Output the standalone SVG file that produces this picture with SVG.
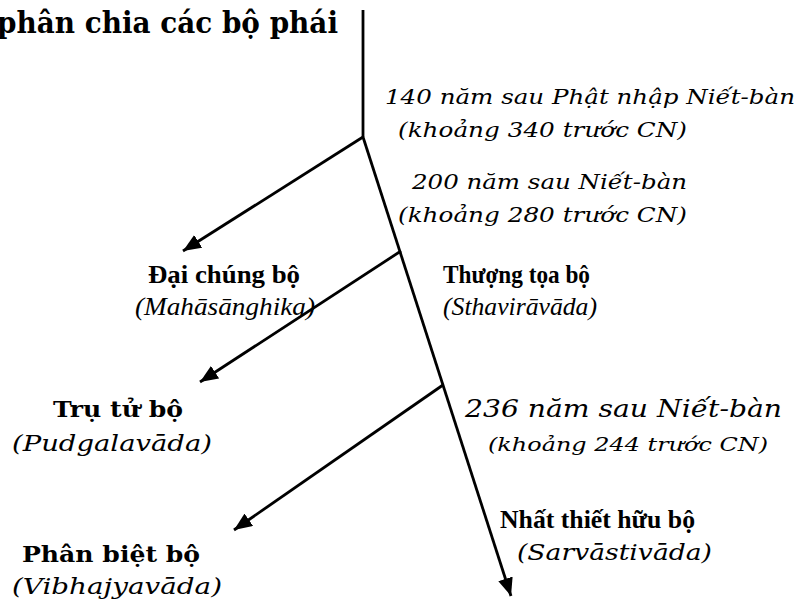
<svg xmlns="http://www.w3.org/2000/svg" width="800" height="603" viewBox="0 0 800 603">
<style>
.b{font-family:"DejaVu Serif","Liberation Serif",serif;font-weight:bold;fill:#000}
.tb{font-family:"Liberation Serif","Times New Roman",serif;font-weight:bold;fill:#000}
.i{font-family:"DejaVu Serif","Liberation Serif",serif;font-style:italic;fill:#000}
.t{font-family:"Liberation Serif","Times New Roman",serif;font-style:italic;fill:#000}
.ln{stroke:#000;stroke-width:2.8;fill:none}
</style>
<defs>
<marker id="ah" markerUnits="userSpaceOnUse" markerWidth="19" markerHeight="15" refX="18" refY="7.5" orient="auto">
<path d="M0,0 L18,7.5 L0,15 Z" fill="#000"/>
</marker>
</defs>
<rect width="800" height="603" fill="#fff"/>
<g id="connectors">
<line class="ln" x1="363" y1="10" x2="363" y2="137"/>
<line class="ln" x1="363" y1="137" x2="511" y2="596" marker-end="url(#ah)"/>
<line class="ln" x1="363" y1="137" x2="183" y2="251" marker-end="url(#ah)"/>
<line class="ln" x1="401" y1="251" x2="200" y2="382" marker-end="url(#ah)"/>
<line class="ln" x1="443" y1="385" x2="234" y2="530" marker-end="url(#ah)"/>
</g>
<g id="title">
<text class="b" x="-3" y="33" font-size="29" textLength="341" lengthAdjust="spacingAndGlyphs">phân chia các bộ phái</text>
</g>
<g id="split1">
<text class="i" x="385" y="104" font-size="21" textLength="410" lengthAdjust="spacingAndGlyphs">140 năm sau Phật nhập Niết-bàn</text>
<text class="i" x="398" y="137" font-size="21" textLength="289" lengthAdjust="spacingAndGlyphs">(khoảng 340 trước CN)</text>
</g>
<g id="split2">
<text class="i" x="412" y="189" font-size="21" textLength="275" lengthAdjust="spacingAndGlyphs">200 năm sau Niết-bàn</text>
<text class="i" x="398" y="222" font-size="21" textLength="289" lengthAdjust="spacingAndGlyphs">(khoảng 280 trước CN)</text>
</g>
<g id="split3">
<text class="i" x="465" y="417" font-size="24" textLength="317" lengthAdjust="spacingAndGlyphs">236 năm sau Niết-bàn</text>
<text class="i" x="488" y="451" font-size="19" textLength="280" lengthAdjust="spacingAndGlyphs">(khoảng 244 trước CN)</text>
</g>
<g id="mahasanghika">
<text class="tb" x="148" y="283" font-size="26" textLength="152" lengthAdjust="spacingAndGlyphs">Đại chúng bộ</text>
<text class="t" x="135" y="315" font-size="25" textLength="180" lengthAdjust="spacingAndGlyphs">(Mahāsānghika)</text>
</g>
<g id="sthaviravada">
<text class="tb" x="443" y="283" font-size="25" textLength="147" lengthAdjust="spacingAndGlyphs">Thượng tọa bộ</text>
<text class="t" x="443" y="315" font-size="25" textLength="154" lengthAdjust="spacingAndGlyphs">(Sthavirāvāda)</text>
</g>
<g id="pudgalavada">
<text class="b" x="53" y="417" font-size="23" textLength="130" lengthAdjust="spacingAndGlyphs">Trụ tử bộ</text>
<text class="i" x="12" y="451" font-size="23" textLength="200" lengthAdjust="spacingAndGlyphs">(Pudgalavāda)</text>
</g>
<g id="vibhajyavada">
<text class="b" x="22" y="562" font-size="23" textLength="178" lengthAdjust="spacingAndGlyphs">Phân biệt bộ</text>
<text class="i" x="12" y="594" font-size="23" textLength="210" lengthAdjust="spacingAndGlyphs">(Vibhajyavāda)</text>
</g>
<g id="sarvastivada">
<text class="tb" x="500" y="528" font-size="25" textLength="195" lengthAdjust="spacingAndGlyphs">Nhất thiết hữu bộ</text>
<text class="i" x="517" y="560" font-size="22" textLength="195" lengthAdjust="spacingAndGlyphs">(Sarvāstivāda)</text>
</g>
</svg>
